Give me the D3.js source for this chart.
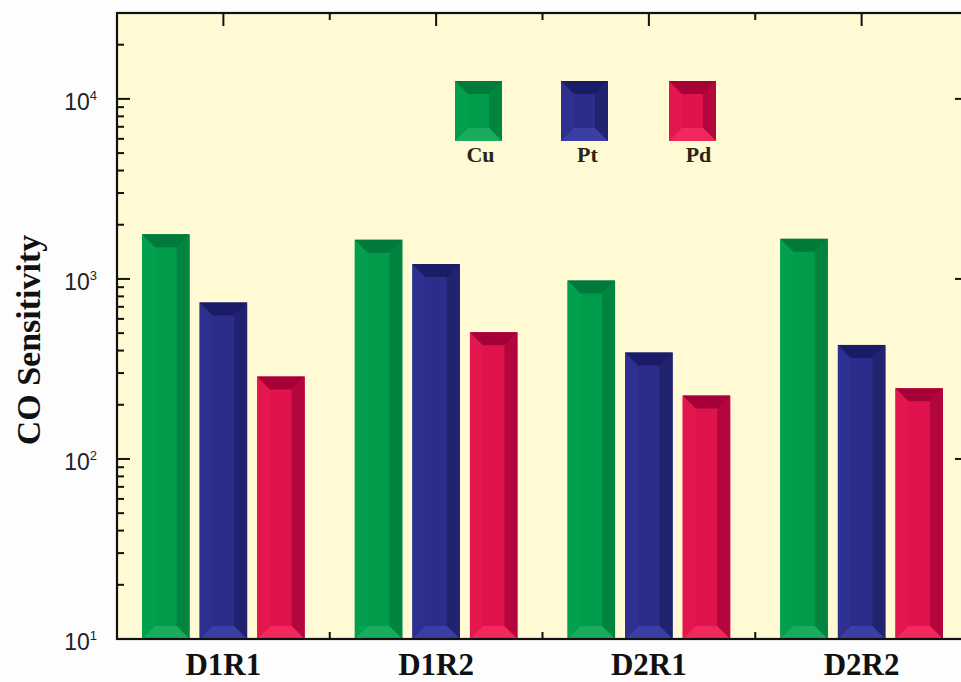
<!DOCTYPE html>
<html>
<head>
<meta charset="utf-8">
<script src="https://cdn.jsdelivr.net/npm/d3@7"></script>
<style>
  html, body { margin: 0; padding: 0; background: #fdfdfd; }
  svg { display: block; }
</style>
</head>
<body>
<svg id="chart" width="961" height="682"></svg>
<script>
// Sensor samples along the x axis
const samples = ["D1R1", "D1R2", "D2R1", "D2R2"];
// Catalyst series
const catalysts = ["Cu", "Pt", "Pd"];
// CO sensitivity per sample, one array per catalyst
const cuValues = [1770, 1650, 980, 1670];
const ptValues = [740, 1210, 390, 430];
const pdValues = [287, 506, 225, 247];
// Log axis decades shown as tick labels
const decadeExponents = [1, 2, 3, 4];

const seriesValues = { Cu: cuValues, Pt: ptValues, Pd: pdValues };

// Bevelled bar palette: face, top, right, bottom, left
const palette = {
  Cu: { face: "#009b4b", top: "#007a3a", right: "#00843f", bottom: "#19ac5c", left: "#02a04e" },
  Pt: { face: "#2b2d8b", top: "#1b1c68", right: "#212270", bottom: "#3b3ea2", left: "#2d308f" },
  Pd: { face: "#e1134c", top: "#a50037", right: "#b3063e", bottom: "#f0285b", left: "#e3164e" }
};

const svg = d3.select("#chart");
const plot = { left: 117, right: 968, top: 13, bottom: 639 };

// Plot background
svg.append("rect")
  .attr("x", plot.left).attr("y", plot.top)
  .attr("width", plot.right - plot.left).attr("height", plot.bottom - plot.top)
  .attr("fill", "#fff9d4");

const x = d3.scaleBand().domain(samples).range([plot.left, plot.right]).padding(0);
const xInner = d3.scaleBand().domain(catalysts)
  .range([-x.bandwidth() * 0.406, x.bandwidth() * 0.406])
  .paddingInner(0.175).paddingOuter(0.0875);
const y = d3.scaleLog().domain([10, 30000]).range([plot.bottom, plot.top]);

// Axis ticks (drawn under the bars so centre ticks are hidden)
const ticksG = svg.append("g");
const majorLen = 13, minorLen = 7;
const minorTicks = y.ticks().filter(v => v >= 10 && v <= 30000);
minorTicks.forEach(v => {
  const isMajor = Math.abs(Math.log10(v) - Math.round(Math.log10(v))) < 1e-9;
  const len = isMajor ? majorLen : minorLen;
  const yy = y(v);
  ticksG.append("line").attr("x1", plot.left).attr("x2", plot.left + len)
    .attr("y1", yy).attr("y2", yy);
  ticksG.append("line").attr("x1", plot.right).attr("x2", plot.right - len)
    .attr("y1", yy).attr("y2", yy);
});
samples.forEach((s, i) => {
  const cx = x(s) + x.bandwidth() / 2;
  [[plot.top, 1], [plot.bottom, -1]].forEach(([yy, dir]) => {
    ticksG.append("line").attr("x1", cx).attr("x2", cx)
      .attr("y1", yy).attr("y2", yy + dir * majorLen);
    if (i < samples.length - 1) {
      const mx = x(s) + x.bandwidth();
      ticksG.append("line").attr("x1", mx).attr("x2", mx)
        .attr("y1", yy).attr("y2", yy + dir * minorLen);
    }
  });
});
ticksG.selectAll("line").attr("stroke", "#111").attr("stroke-width", 2);

// Draw a bevelled rectangle
function bevelRect(g, x0, y0, w, h, col, b) {
  const x1 = x0 + w, y1 = y0 + h;
  const bb = Math.min(b, w / 2, h / 2);
  const pts = a => a.map(p => p.join(",")).join(" ");
  g.append("rect").attr("x", x0).attr("y", y0).attr("width", w).attr("height", h).attr("fill", col.face);
  g.append("polygon").attr("points", pts([[x0, y0], [x0 + bb, y0 + bb], [x0 + bb, y1 - bb], [x0, y1]])).attr("fill", col.left);
  g.append("polygon").attr("points", pts([[x1, y0], [x1, y1], [x1 - bb, y1 - bb], [x1 - bb, y0 + bb]])).attr("fill", col.right);
  g.append("polygon").attr("points", pts([[x0, y1], [x1, y1], [x1 - bb, y1 - bb], [x0 + bb, y1 - bb]])).attr("fill", col.bottom);
  g.append("polygon").attr("points", pts([[x0, y0], [x1, y0], [x1 - bb, y0 + bb], [x0 + bb, y0 + bb]])).attr("fill", col.top);
}

// Bars
const barsG = svg.append("g");
samples.forEach((s, i) => {
  const cx = x(s) + x.bandwidth() / 2;
  catalysts.forEach(c => {
    const v = seriesValues[c][i];
    const x0 = cx + xInner(c);
    const top = y(v);
    bevelRect(barsG.append("g"), x0, top, xInner.bandwidth(), plot.bottom - top, palette[c], 13);
  });
});

// Frame
svg.append("rect")
  .attr("x", plot.left).attr("y", plot.top)
  .attr("width", plot.right - plot.left).attr("height", plot.bottom - plot.top)
  .attr("fill", "none").attr("stroke", "#111").attr("stroke-width", 2.2);

// Y tick labels (powers of ten)
decadeExponents.forEach(e => {
  const t = svg.append("text")
    .attr("x", 97).attr("y", y(Math.pow(10, e)) + 11)
    .attr("text-anchor", "end")
    .attr("font-family", "'Liberation Sans', Arial, sans-serif")
    .attr("fill", "#222");
  t.append("tspan").attr("font-size", 23).text("10");
  t.append("tspan").attr("font-size", 13).attr("dy", -10).text(e);
});

// X category labels
samples.forEach(s => {
  svg.append("text")
    .attr("x", x(s) + x.bandwidth() / 2).attr("y", 675)
    .attr("text-anchor", "middle")
    .attr("font-family", "'Liberation Serif', 'Times New Roman', serif")
    .attr("font-weight", "bold").attr("font-size", 31)
    .attr("fill", "#111")
    .text(s);
});

// Y axis title
svg.append("text")
  .attr("transform", "translate(40,340) rotate(-90)")
  .attr("text-anchor", "middle")
  .attr("font-family", "'Liberation Serif', 'Times New Roman', serif")
  .attr("font-weight", "bold").attr("font-size", 34)
  .attr("fill", "#111")
  .text("CO Sensitivity");

// Legend
const legendX = [455, 561, 669];
const labelShift = [2, 3, 6];
catalysts.forEach((c, i) => {
  const g = svg.append("g");
  bevelRect(g, legendX[i], 81, 47, 60, palette[c], 13);
  svg.append("text")
    .attr("x", legendX[i] + 23.5 + labelShift[i]).attr("y", 162)
    .attr("text-anchor", "middle")
    .attr("font-family", "'Liberation Serif', 'Times New Roman', serif")
    .attr("font-weight", "bold").attr("font-size", 22)
    .attr("fill", "#2a2418")
    .text(c);
});
</script>
</body>
</html>
